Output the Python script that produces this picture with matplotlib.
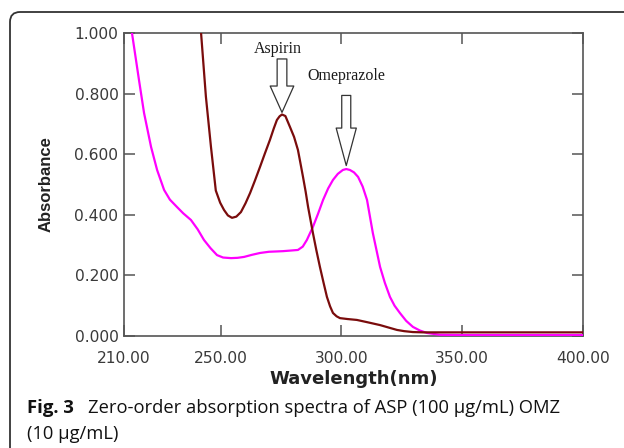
import numpy as np
import matplotlib.pyplot as plt
from matplotlib.patches import FancyBboxPatch

# Omeprazole (magenta) spectrum
omz_nm = [213.3, 216.2, 218.3, 221.2, 223.7, 226.6, 229.0, 231.9, 234.5, 237.7, 240.5, 243.1,
          245.8, 248.5, 251.0, 254.3, 257.0, 259.7, 263.0, 266.3, 270.0, 273.0, 275.8, 279.0,
          282.0, 284.0, 285.7, 288.2, 290.3, 292.4, 294.5, 296.5, 298.5, 300.6, 302.0, 303.5,
          305.2, 306.9, 308.8, 310.6, 313.0, 316.0, 318.0, 320.1, 322.0, 324.2, 326.8, 329.6,
          332.5, 335.4, 340.8, 350.0, 400.0]
omz_abs = [1.000, 0.845, 0.736, 0.624, 0.548, 0.482, 0.450, 0.426, 0.405, 0.383, 0.352, 0.317,
           0.290, 0.267, 0.259, 0.257, 0.258, 0.261, 0.268, 0.274, 0.278, 0.279, 0.280, 0.282,
           0.284, 0.295, 0.317, 0.360, 0.403, 0.449, 0.487, 0.515, 0.535, 0.548, 0.551, 0.548,
           0.540, 0.525, 0.493, 0.449, 0.340, 0.228, 0.175, 0.129, 0.100, 0.076, 0.050, 0.030,
           0.018, 0.010, 0.004, 0.003, 0.003]

# Aspirin (maroon) spectrum
asp_nm = [241.9, 243.9, 246.0, 248.0, 249.8, 251.4, 253.0, 254.7, 256.5, 258.4, 260.3, 262.2,
          264.2, 266.3, 268.3, 270.4, 272.0, 273.3, 274.4, 275.4, 276.8, 278.7, 280.4, 282.0,
          283.0, 284.1, 285.2, 286.2, 287.2, 288.2, 289.6, 291.1, 292.6, 294.0, 295.3, 296.5,
          298.0, 299.4, 302.5, 306.4, 311.0, 316.0, 319.5, 323.0, 326.0, 329.6, 334.0, 340.8, 400.0]
asp_abs = [1.000, 0.790, 0.624, 0.480, 0.440, 0.416, 0.398, 0.390, 0.394, 0.409, 0.438, 0.472,
           0.513, 0.558, 0.602, 0.647, 0.685, 0.713, 0.725, 0.731, 0.726, 0.690, 0.657, 0.614,
           0.572, 0.525, 0.476, 0.426, 0.383, 0.340, 0.284, 0.228, 0.176, 0.129, 0.098, 0.076,
           0.065, 0.059, 0.056, 0.053, 0.045, 0.036, 0.028, 0.020, 0.016, 0.013, 0.012, 0.012, 0.012]

x_ticks = [210, 250, 300, 350, 400]
x_labels = ["210.00", "250.00", "300.00", "350.00", "400.00"]
y_ticks = [0.0, 0.2, 0.4, 0.6, 0.8, 1.0]

plt.rcParams["font.family"] = "DejaVu Sans"

fig = plt.figure(figsize=(6.24, 4.48), dpi=100)
ax = fig.add_axes([124 / 624, 1 - 336 / 448, (583 - 124) / 624, (336 - 33) / 448])

ax.plot(omz_nm, omz_abs, color="#ff00ff", lw=1.6, zorder=3)
ax.plot(asp_nm, asp_abs, color="#7a0c0c", lw=1.6, zorder=3)

ax.set_xlim(210, 400)
ax.set_ylim(0, 1.0)

ax.set_xticks(x_ticks)
ax.set_xticklabels(x_labels)
ax.set_yticks(y_ticks)
ax.set_yticklabels(["%.3f" % v for v in y_ticks])
ax.tick_params(direction="in", length=8, width=1.1, color="#555555",
               labelsize=11.2, labelcolor="#3a3a3a", top=True, right=True, pad=4)
ax.tick_params(axis="x", pad=11)
for s in ax.spines.values():
    s.set_color("#555555")
    s.set_linewidth(1.2)

ax.set_xlabel("Wavelength(nm)", fontsize=13, fontweight="bold", color="#222222", labelpad=3)
ax.set_ylabel("Absorbance", family="Liberation Sans", fontsize=12, fontweight="bold",
              color="#222222", labelpad=15)

# peak arrows (hollow block arrows)
i_asp = int(np.argmax(asp_abs[5:30])) + 5
i_omz = int(np.argmax(omz_abs[20:45])) + 20
asp_peak = (asp_nm[i_asp], asp_abs[i_asp])
omz_peak = (omz_nm[i_omz], omz_abs[i_omz])

ax.annotate("", xy=asp_peak, xytext=(0, 40), textcoords="offset points",
            arrowprops=dict(arrowstyle="simple,head_length=1.9,head_width=1.7,tail_width=0.7",
                            mutation_scale=10, fc="white", ec="#333333", lw=0.9,
                            shrinkA=0, shrinkB=1.5))
ax.annotate("", xy=omz_peak, xytext=(0, 53), textcoords="offset points",
            arrowprops=dict(arrowstyle="simple,head_length=2.7,head_width=1.45,tail_width=0.65",
                            mutation_scale=10, fc="white", ec="#333333", lw=0.9,
                            shrinkA=0, shrinkB=2.5))
ax.annotate("Aspirin", xy=asp_peak, xytext=(-3, 44.5), textcoords="offset points",
            ha="center", va="baseline", family="Liberation Serif", fontsize=11.5, color="#1a1a1a")
ax.annotate("Omeprazole", xy=omz_peak, xytext=(0, 64), textcoords="offset points",
            ha="center", va="baseline", family="Liberation Serif", fontsize=11.5, color="#1a1a1a")

# caption
fig.text(27 / 624, 1 - 413 / 448, "Fig. 3", family="Open Sans", fontweight="bold",
         fontsize=13.3, va="baseline", color="#111111")
fig.text(88 / 624, 1 - 413 / 448, "Zero-order absorption spectra of ASP (100 µg/mL) OMZ",
         family="Open Sans", fontsize=13.2, va="baseline", color="#111111")
fig.text(27 / 624, 1 - 439 / 448, "(10 µg/mL)", family="Open Sans", fontsize=13.2,
         va="baseline", color="#111111")

# rounded frame around the figure panel
frame = FancyBboxPatch((10, -30), 700, 448 - 12 + 30, boxstyle="round,pad=0,rounding_size=10",
                       transform=None, fc="none", ec="#333333", lw=1.3)
fig.add_artist(frame)

fig.savefig("out.png", dpi=100)
